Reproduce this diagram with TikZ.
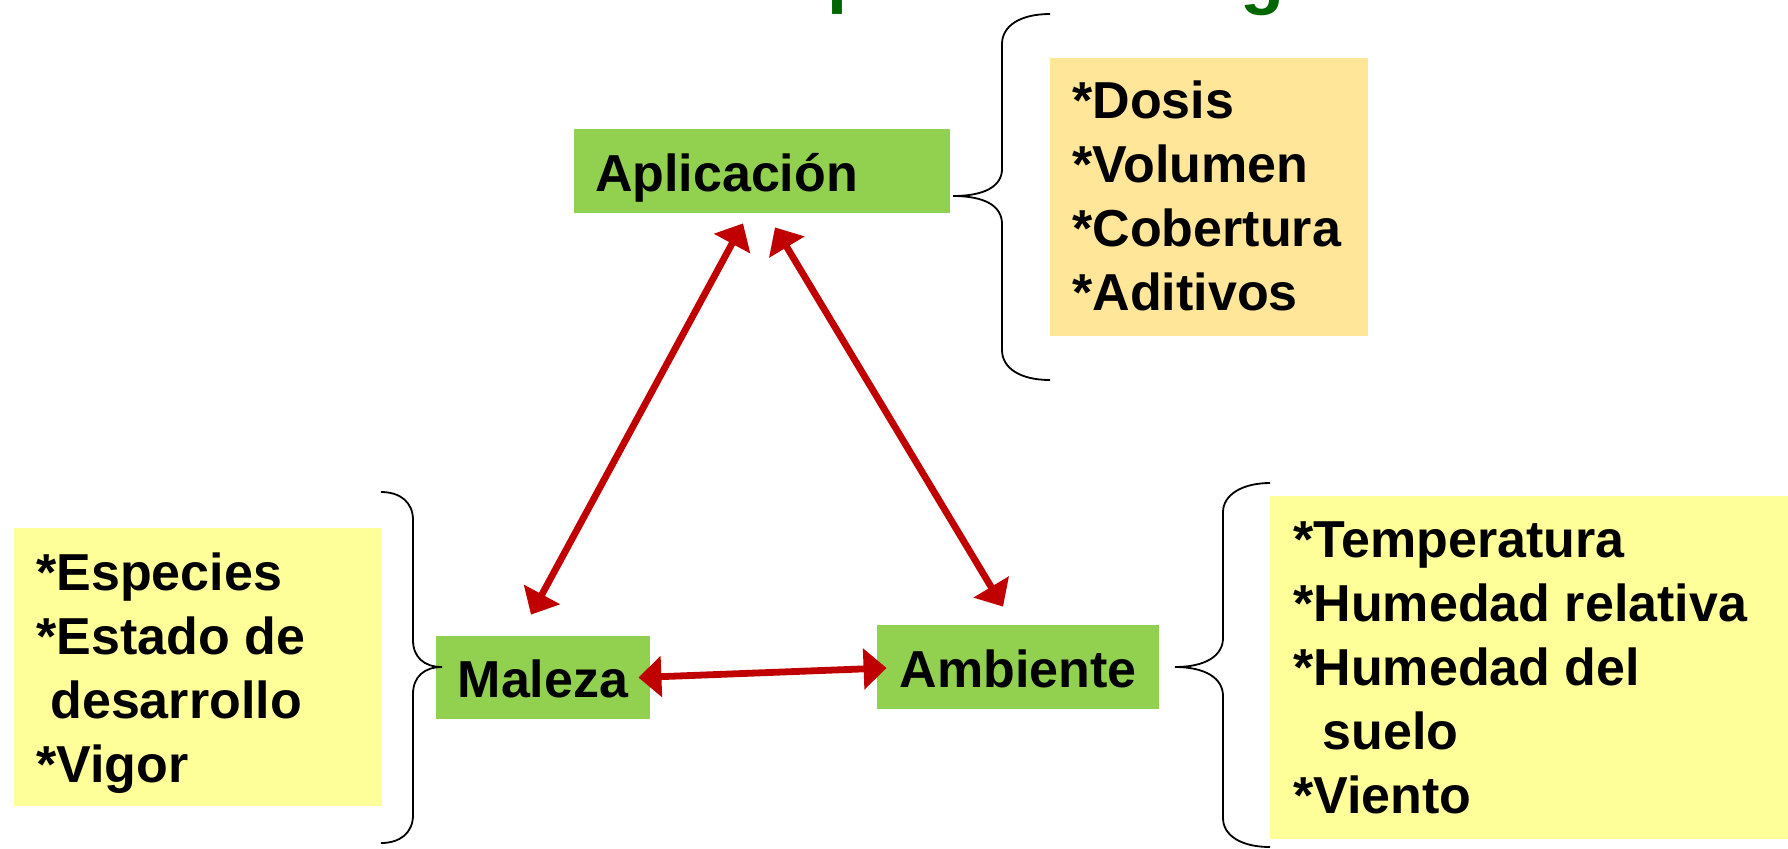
\documentclass[tikz,border=0pt]{standalone}
\usepackage{fontspec}
\setmainfont{Liberation Sans}
\usetikzlibrary{arrows.meta,calc}
\definecolor{boxgreen}{HTML}{92D050}
\definecolor{listorange}{HTML}{FFE699}
\definecolor{listyellow}{HTML}{FFFF99}
\definecolor{arrowred}{HTML}{C00000}
\definecolor{titlegreen}{HTML}{006600}
\begin{document}
\begin{tikzpicture}[x=0.5pt,y=-0.5pt,
  factor/.style={fill=boxgreen, inner sep=0pt, font=\bfseries\fontsize{26}{32}\selectfont, text height=20pt, text depth=0pt},
  listbox/.style={inner sep=0pt, draw=none},
  listline/.style={anchor=base west, inner sep=0pt, font=\bfseries\fontsize{26}{32}\selectfont},
  titleglyph/.style={anchor=base west, inner sep=0pt, text=titlegreen, font=\bfseries\fontsize{36}{40}\selectfont},
  link/.style={draw=arrowred, line width=3.4pt, {Triangle[length=11.5pt,width=20pt]}-{Triangle[length=11.5pt,width=20pt]}},
  bracket/.style={draw=black, line width=0.9pt}
]
\useasboundingbox (0,0) rectangle (1788,848);
\fill[white] (0,0) rectangle (1788,848);

% fragments of the cut-off title
\begin{scope}
\clip (0,0) rectangle (1788,848);
\node (tp) [titleglyph] at (827,-1) {p};
\node (tg) [titleglyph] at (1240,0) {g};
\end{scope}

% factor boxes
\node (apl) [factor, minimum width=188pt, minimum height=42pt, text width=167pt, align=left] at (762,171) {Aplicación};
\node (mal) [factor, minimum width=107pt, minimum height=41.5pt] at (543,677.5) {Maleza};
\node (amb) [factor, minimum width=141pt, minimum height=42pt] at (1018,667) {Ambiente};

% list boxes
\node (dbox) [listbox, fill=listorange, minimum width=159pt, minimum height=139pt] at (1209,197) {};
\node (d1) [listline] at (1072,118) {*Dosis};
\node (d2) [listline] at (1072,182) {*Volumen};
\node (d3) [listline] at (1072,246) {*Cobertura};
\node (d4) [listline] at (1072,310) {*Aditivos};

\node (ebox) [listbox, fill=listyellow, minimum width=184pt, minimum height=139pt] at (198,667) {};
\node (e1) [listline] at (36,590) {*Especies};
\node (e2) [listline] at (36,654) {*Estado de};
\node (e3) [listline] at (50,718) {desarrollo};
\node (e4) [listline] at (36,782) {*Vigor};

\node (tbox) [listbox, fill=listyellow, minimum width=260pt, minimum height=171.5pt] at (1530,667.5) {};
\node (t1) [listline] at (1293,557) {*Temperatura};
\node (t2) [listline] at (1293,621) {*Humedad relativa};
\node (t3) [listline] at (1293,685) {*Humedad del};
\node (t4) [listline] at (1322,749) {suelo};
\node (t5) [listline] at (1293,813) {*Viento};

% braces
\draw[bracket] (1050,14) .. controls (1020,14) and (1002,26) .. (1002,44) -- (1002,169)
  .. controls (1002,186) and (985,196) .. (953,196)
  .. controls (985,196) and (1002,206) .. (1002,224) -- (1002,350)
  .. controls (1002,368) and (1020,380) .. (1050,380);
\draw[bracket] (381,492) .. controls (400,492) and (413,502) .. (413,520) -- (413,640)
  .. controls (413,657) and (424,667) .. (442,667)
  .. controls (424,667) and (413,677) .. (413,694) -- (413,815)
  .. controls (413,833) and (400,843) .. (381,843);
\draw[bracket] (1270,483) .. controls (1242,483) and (1223,495) .. (1223,512) -- (1223,638)
  .. controls (1223,656) and (1205,667) .. (1175,667)
  .. controls (1205,667) and (1223,678) .. (1223,696) -- (1223,818)
  .. controls (1223,836) and (1242,847) .. (1270,847);

% connectors
\draw[link] ($(apl.south)+(-19,10)$) -- ($(mal.north)+(-12,-21)$);
\draw[link] ($(apl.south)+(13,14)$) -- ($(amb.north)+(-15,-18)$);
\draw[link] ($(mal.east)+(-12,0)$) -- ($(amb.west)+(10,1)$);
\end{tikzpicture}
\end{document}
